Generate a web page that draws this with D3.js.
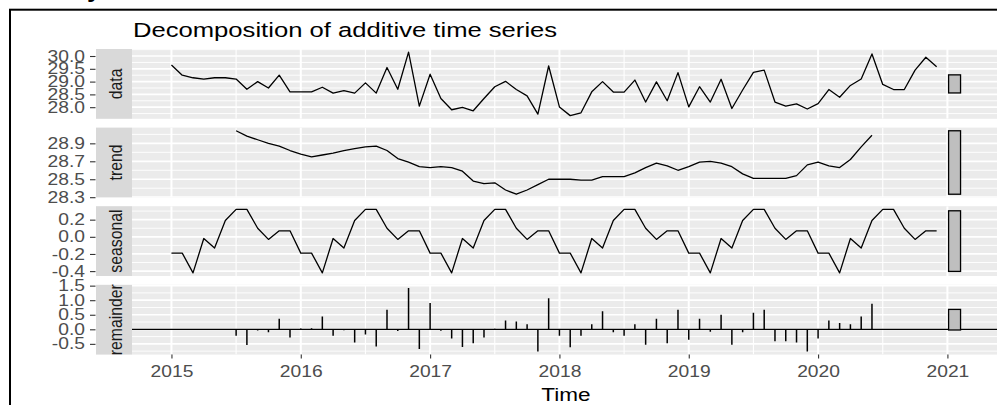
<!DOCTYPE html>
<html>
<head>
<meta charset="utf-8">
<script src="https://cdn.jsdelivr.net/npm/d3@7"></script>
<style>
  body { margin: 0; background: #fff; }
  text { font-family: "Liberation Sans", Arial, sans-serif; }
</style>
</head>
<body>
<div id="vis"></div>
<script>
// monthly series, Jan 2015 - Dec 2020
const START_YEAR = 2015;
const FREQ = 12;

const observed = [
  29.65, 29.25, 29.15, 29.10, 29.15, 29.15, 29.10, 28.70, 29.00, 28.75, 29.25, 28.60,
  28.60, 28.60, 28.78, 28.55, 28.65, 28.55, 28.95, 28.55, 29.55, 28.70, 30.15, 28.04,
  29.29, 28.34, 27.90, 27.99, 27.86, 28.34, 28.80, 29.01, 28.69, 28.44, 27.73, 29.61,
  28.01, 27.67, 27.78, 28.60, 29.00, 28.59, 28.59, 29.06, 28.20, 28.99, 28.25, 29.35,
  28.01, 28.80, 28.20, 29.09, 27.95, 28.67, 29.36, 29.45, 28.20, 28.04, 28.13, 27.93,
  28.14, 28.69, 28.39, 28.85, 29.10, 30.08, 28.89, 28.69, 28.69, 29.45, 29.95, 29.58
];

const trend = [
  null, null, null, null, null, null, 29.04, 28.98, 28.94, 28.90, 28.87, 28.82,
  28.78, 28.75, 28.77, 28.79, 28.82, 28.84, 28.86, 28.87, 28.82, 28.73, 28.69, 28.64,
  28.63, 28.64, 28.63, 28.59, 28.48, 28.45, 28.46, 28.38, 28.333, 28.38, 28.44, 28.50,
  28.50, 28.50, 28.49, 28.49, 28.53, 28.53, 28.53, 28.57, 28.63, 28.68, 28.65, 28.60,
  28.64, 28.69, 28.70, 28.68, 28.64, 28.56, 28.51, 28.51, 28.51, 28.51, 28.54, 28.66,
  28.69, 28.65, 28.63, 28.72, 28.86, 28.99, null, null, null, null, null, null
];

const seasonal = [
  -0.19, -0.19, -0.42, -0.02, -0.13, 0.19, 0.32, 0.32, 0.10, -0.03, 0.07, 0.07,
  -0.19, -0.19, -0.42, -0.02, -0.13, 0.19, 0.32, 0.32, 0.10, -0.03, 0.07, 0.07,
  -0.19, -0.19, -0.42, -0.02, -0.13, 0.19, 0.32, 0.32, 0.10, -0.03, 0.07, 0.07,
  -0.19, -0.19, -0.42, -0.02, -0.13, 0.19, 0.32, 0.32, 0.10, -0.03, 0.07, 0.07,
  -0.19, -0.19, -0.42, -0.02, -0.13, 0.19, 0.32, 0.32, 0.10, -0.03, 0.07, 0.07,
  -0.19, -0.19, -0.42, -0.02, -0.13, 0.19, 0.32, 0.32, 0.10, -0.03, 0.07, 0.07
];

const remainder = [
  null, null, null, null, null, null, -0.22, -0.54, -0.04, -0.10, 0.36, -0.28,
  0.03, 0.04, 0.44, -0.22, -0.03, -0.45, -0.18, -0.59, 0.67, -0.06, 1.42, -0.68,
  0.90, -0.05, -0.32, -0.61, -0.48, -0.28, 0.02, 0.30, 0.27, 0.17, -0.76, 1.07,
  -0.22, -0.62, -0.22, 0.17, 0.62, -0.10, -0.22, 0.17, -0.53, 0.36, -0.48, 0.67,
  -0.36, 0.36, -0.08, 0.50, -0.53, -0.10, 0.57, 0.67, -0.41, -0.41, -0.45, -0.76,
  -0.32, 0.30, 0.22, 0.17, 0.44, 0.88, null, null, null, null, null, null
];

const partNames = ["data", "trend", "seasonal", "remainder"];
const dataTicks = [28.0, 28.5, 29.0, 29.5, 30.0];
const trendTicks = [28.3, 28.5, 28.7, 28.9];
const seasonalTicks = [-0.4, -0.2, 0.0, 0.2];
const remainderTicks = [-0.5, 0.0, 0.5, 1.0, 1.5];
const yearTicks = [2015, 2016, 2017, 2018, 2019, 2020, 2021];

const TITLE = "Decomposition of additive time series";
const X_TITLE = "Time";

// layout
const FRAME_WIDTH = 997;
const FRAME_HEIGHT = 405;
const PANEL = {left: 132, right: 1000, top: 49, height: 69.8, gap: 8.8};
const STRIP_LEFT = 96;
const SX = 1.22; // text in the reference is stretched sideways

const svg = d3.select("#vis")
  .append("svg")
    .attr("width", FRAME_WIDTH)
    .attr("height", FRAME_HEIGHT);

// build the table of parts
const series = [observed, trend, seasonal, remainder];
const ticks = [dataTicks, trendTicks, seasonalTicks, remainderTicks];
const times = observed.map((d, i) => START_YEAR + i / FREQ);

const ranges = series.map(s => d3.extent(s.filter(v => v != null)));
const barLength = d3.min(ranges, r => r[1] - r[0]);
const xRange = d3.extent(times);
const barWidth = (xRange[1] - xRange[0]) / 64;
const barLeft = xRange[1] + barWidth;
const barRight = xRange[1] + 2 * barWidth;

function expand(lo, hi) {
  const e = (hi - lo) * 0.05;
  return [lo - e, hi + e];
}

const X_SCALE = d3.scaleLinear()
  .domain(expand(xRange[0], barRight))
  .range([PANEL.left, PANEL.right]);

function minorBreaks(major, domain) {
  const step = major[1] - major[0];
  const out = [];
  for (let i = -1; i < major.length; i++) {
    const m = (i < 0 ? major[0] : major[i]) + (i < 0 ? -step / 2 : step / 2);
    if (m >= domain[0] && m <= domain[1]) out.push(m);
  }
  return out;
}

const fmt = d => d.toFixed(1);

const parts = partNames.map((name, k) => {
  const mid = (ranges[k][0] + ranges[k][1]) / 2;
  const lo = Math.min(ranges[k][0], mid - barLength / 2);
  const hi = Math.max(ranges[k][1], mid + barLength / 2);
  const top = PANEL.top + k * (PANEL.height + PANEL.gap);
  const y = d3.scaleLinear().domain(expand(lo, hi)).range([top + PANEL.height, top]);
  return {name, values: series[k], ticks: ticks[k], mid, top, y};
});

const xDomain = X_SCALE.domain();
const xMinor = minorBreaks(yearTicks, xDomain);
const xMajor = yearTicks.filter(t => t >= xDomain[0] && t <= xDomain[1]);

parts.forEach((p, k) => {
  const g = svg.append("g");
  const clipId = "clip" + k;
  svg.append("clipPath").attr("id", clipId)
    .append("rect")
      .attr("x", PANEL.left).attr("y", p.top)
      .attr("width", PANEL.right - PANEL.left).attr("height", PANEL.height);

  // panel background
  g.append("rect")
    .attr("x", PANEL.left).attr("y", p.top)
    .attr("width", PANEL.right - PANEL.left).attr("height", PANEL.height)
    .attr("fill", "#EBEBEB");

  // strip
  g.append("rect")
    .attr("x", STRIP_LEFT).attr("y", p.top)
    .attr("width", PANEL.left - STRIP_LEFT).attr("height", PANEL.height)
    .attr("fill", "#D9D9D9");
  g.append("text")
    .attr("transform", `translate(${(STRIP_LEFT + PANEL.left) / 2 + 1},${p.top + PANEL.height / 2}) scale(${SX},1) rotate(-90)`)
    .attr("dy", "0.35em")
    .attr("text-anchor", "middle")
    .attr("font-size", 15.8)
    .attr("fill", "#1A1A1A")
    .text(p.name);

  const inner = g.append("g").attr("clip-path", `url(#${clipId})`);
  const yDomain = p.y.domain();
  const yMinor = minorBreaks(p.ticks, yDomain);
  const yMajor = p.ticks.filter(t => t >= yDomain[0] - 1e-9 && t <= yDomain[1]);

  // grid
  inner.selectAll(".yminor").data(yMinor).enter().append("line")
    .attr("x1", PANEL.left).attr("x2", PANEL.right)
    .attr("y1", d => p.y(d)).attr("y2", d => p.y(d))
    .attr("stroke", "#fff").attr("stroke-width", 0.9);
  inner.selectAll(".xminor").data(xMinor).enter().append("line")
    .attr("x1", d => X_SCALE(d)).attr("x2", d => X_SCALE(d))
    .attr("y1", p.top).attr("y2", p.top + PANEL.height)
    .attr("stroke", "#fff").attr("stroke-width", 1.1);
  inner.selectAll(".ymajor").data(yMajor).enter().append("line")
    .attr("x1", PANEL.left).attr("x2", PANEL.right)
    .attr("y1", d => p.y(d)).attr("y2", d => p.y(d))
    .attr("stroke", "#fff").attr("stroke-width", 1.7);
  inner.selectAll(".xmajor").data(xMajor).enter().append("line")
    .attr("x1", d => X_SCALE(d)).attr("x2", d => X_SCALE(d))
    .attr("y1", p.top).attr("y2", p.top + PANEL.height)
    .attr("stroke", "#fff").attr("stroke-width", 2);

  const pts = p.values.map((v, i) => ({t: times[i], v}));

  if (p.name === "remainder") {
    inner.append("line")
      .attr("x1", PANEL.left).attr("x2", PANEL.right)
      .attr("y1", p.y(0)).attr("y2", p.y(0))
      .attr("stroke", "#000").attr("stroke-width", 1.3);
    inner.selectAll(".seg").data(pts.filter(d => d.v != null)).enter().append("line")
      .attr("x1", d => X_SCALE(d.t)).attr("x2", d => X_SCALE(d.t))
      .attr("y1", p.y(0)).attr("y2", d => p.y(d.v))
      .attr("stroke", "#000").attr("stroke-width", 1.5);
  } else {
    inner.append("path")
      .datum(pts)
      .attr("d", d3.line().defined(d => d.v != null).x(d => X_SCALE(d.t)).y(d => p.y(d.v)))
      .attr("fill", "none")
      .attr("stroke", "#000")
      .attr("stroke-width", 1.3)
      .attr("stroke-linejoin", "round");
  }

  // range bar
  inner.append("rect")
    .attr("x", X_SCALE(barLeft))
    .attr("width", X_SCALE(barRight) - X_SCALE(barLeft))
    .attr("y", p.y(p.mid + barLength / 2))
    .attr("height", p.y(p.mid - barLength / 2) - p.y(p.mid + barLength / 2))
    .attr("fill", "#BFBFBF")
    .attr("stroke", "#000")
    .attr("stroke-width", 1.3);

  // y axis
  const ax = g.append("g")
    .attr("transform", `translate(${STRIP_LEFT - 0.5},0)`)
    .call(d3.axisLeft(p.y).tickValues(p.ticks).tickFormat(fmt).tickSize(5.5).tickPadding(5))
    .attr("font-size", 15.8)
    .attr("font-family", null)
    .attr("color", "#333333");
  ax.select(".domain").remove();
  ax.selectAll(".tick line").attr("stroke-width", 1.1);
  ax.selectAll(".tick text")
    .attr("fill", "#4D4D4D")
    .attr("x", -10.5 / SX)
    .attr("transform", `scale(${SX},1)`);
});

// x axis under the last panel
const last = parts[parts.length - 1];
const xAxis = svg.append("g")
  .attr("transform", `translate(0,${last.top + PANEL.height})`)
  .call(d3.axisBottom(X_SCALE).tickValues(yearTicks).tickFormat(d3.format("d")).tickSize(4).tickPadding(7.5))
  .attr("font-size", 15.8)
  .attr("font-family", null)
  .attr("color", "#333333");
xAxis.select(".domain").remove();
xAxis.selectAll(".tick line").attr("stroke-width", 1.1);
xAxis.selectAll(".tick text")
  .attr("fill", "#4D4D4D")
  .attr("transform", `scale(${SX},1)`);

// titles
svg.append("text")
  .attr("transform", `translate(${PANEL.left + 1},37.3) scale(1.25,1)`)
  .attr("font-size", 20.5)
  .attr("fill", "#000")
  .text(TITLE);

svg.append("text")
  .attr("transform", `translate(${(PANEL.left + PANEL.right) / 2},400.7) scale(${SX},1)`)
  .attr("text-anchor", "middle")
  .attr("font-size", 18.5)
  .attr("fill", "#000")
  .text(X_TITLE);

// outer frame and the cut-off caption letter above it
svg.append("rect")
  .attr("x", 10).attr("y", 9.7)
  .attr("width", 1000).attr("height", 500)
  .attr("fill", "none")
  .attr("stroke", "#000")
  .attr("stroke-width", 2);

svg.append("text")
  .attr("x", 87).attr("y", -3)
  .attr("font-size", 26)
  .attr("font-weight", "bold")
  .attr("fill", "#000")
  .text("y");
</script>
</body>
</html>
